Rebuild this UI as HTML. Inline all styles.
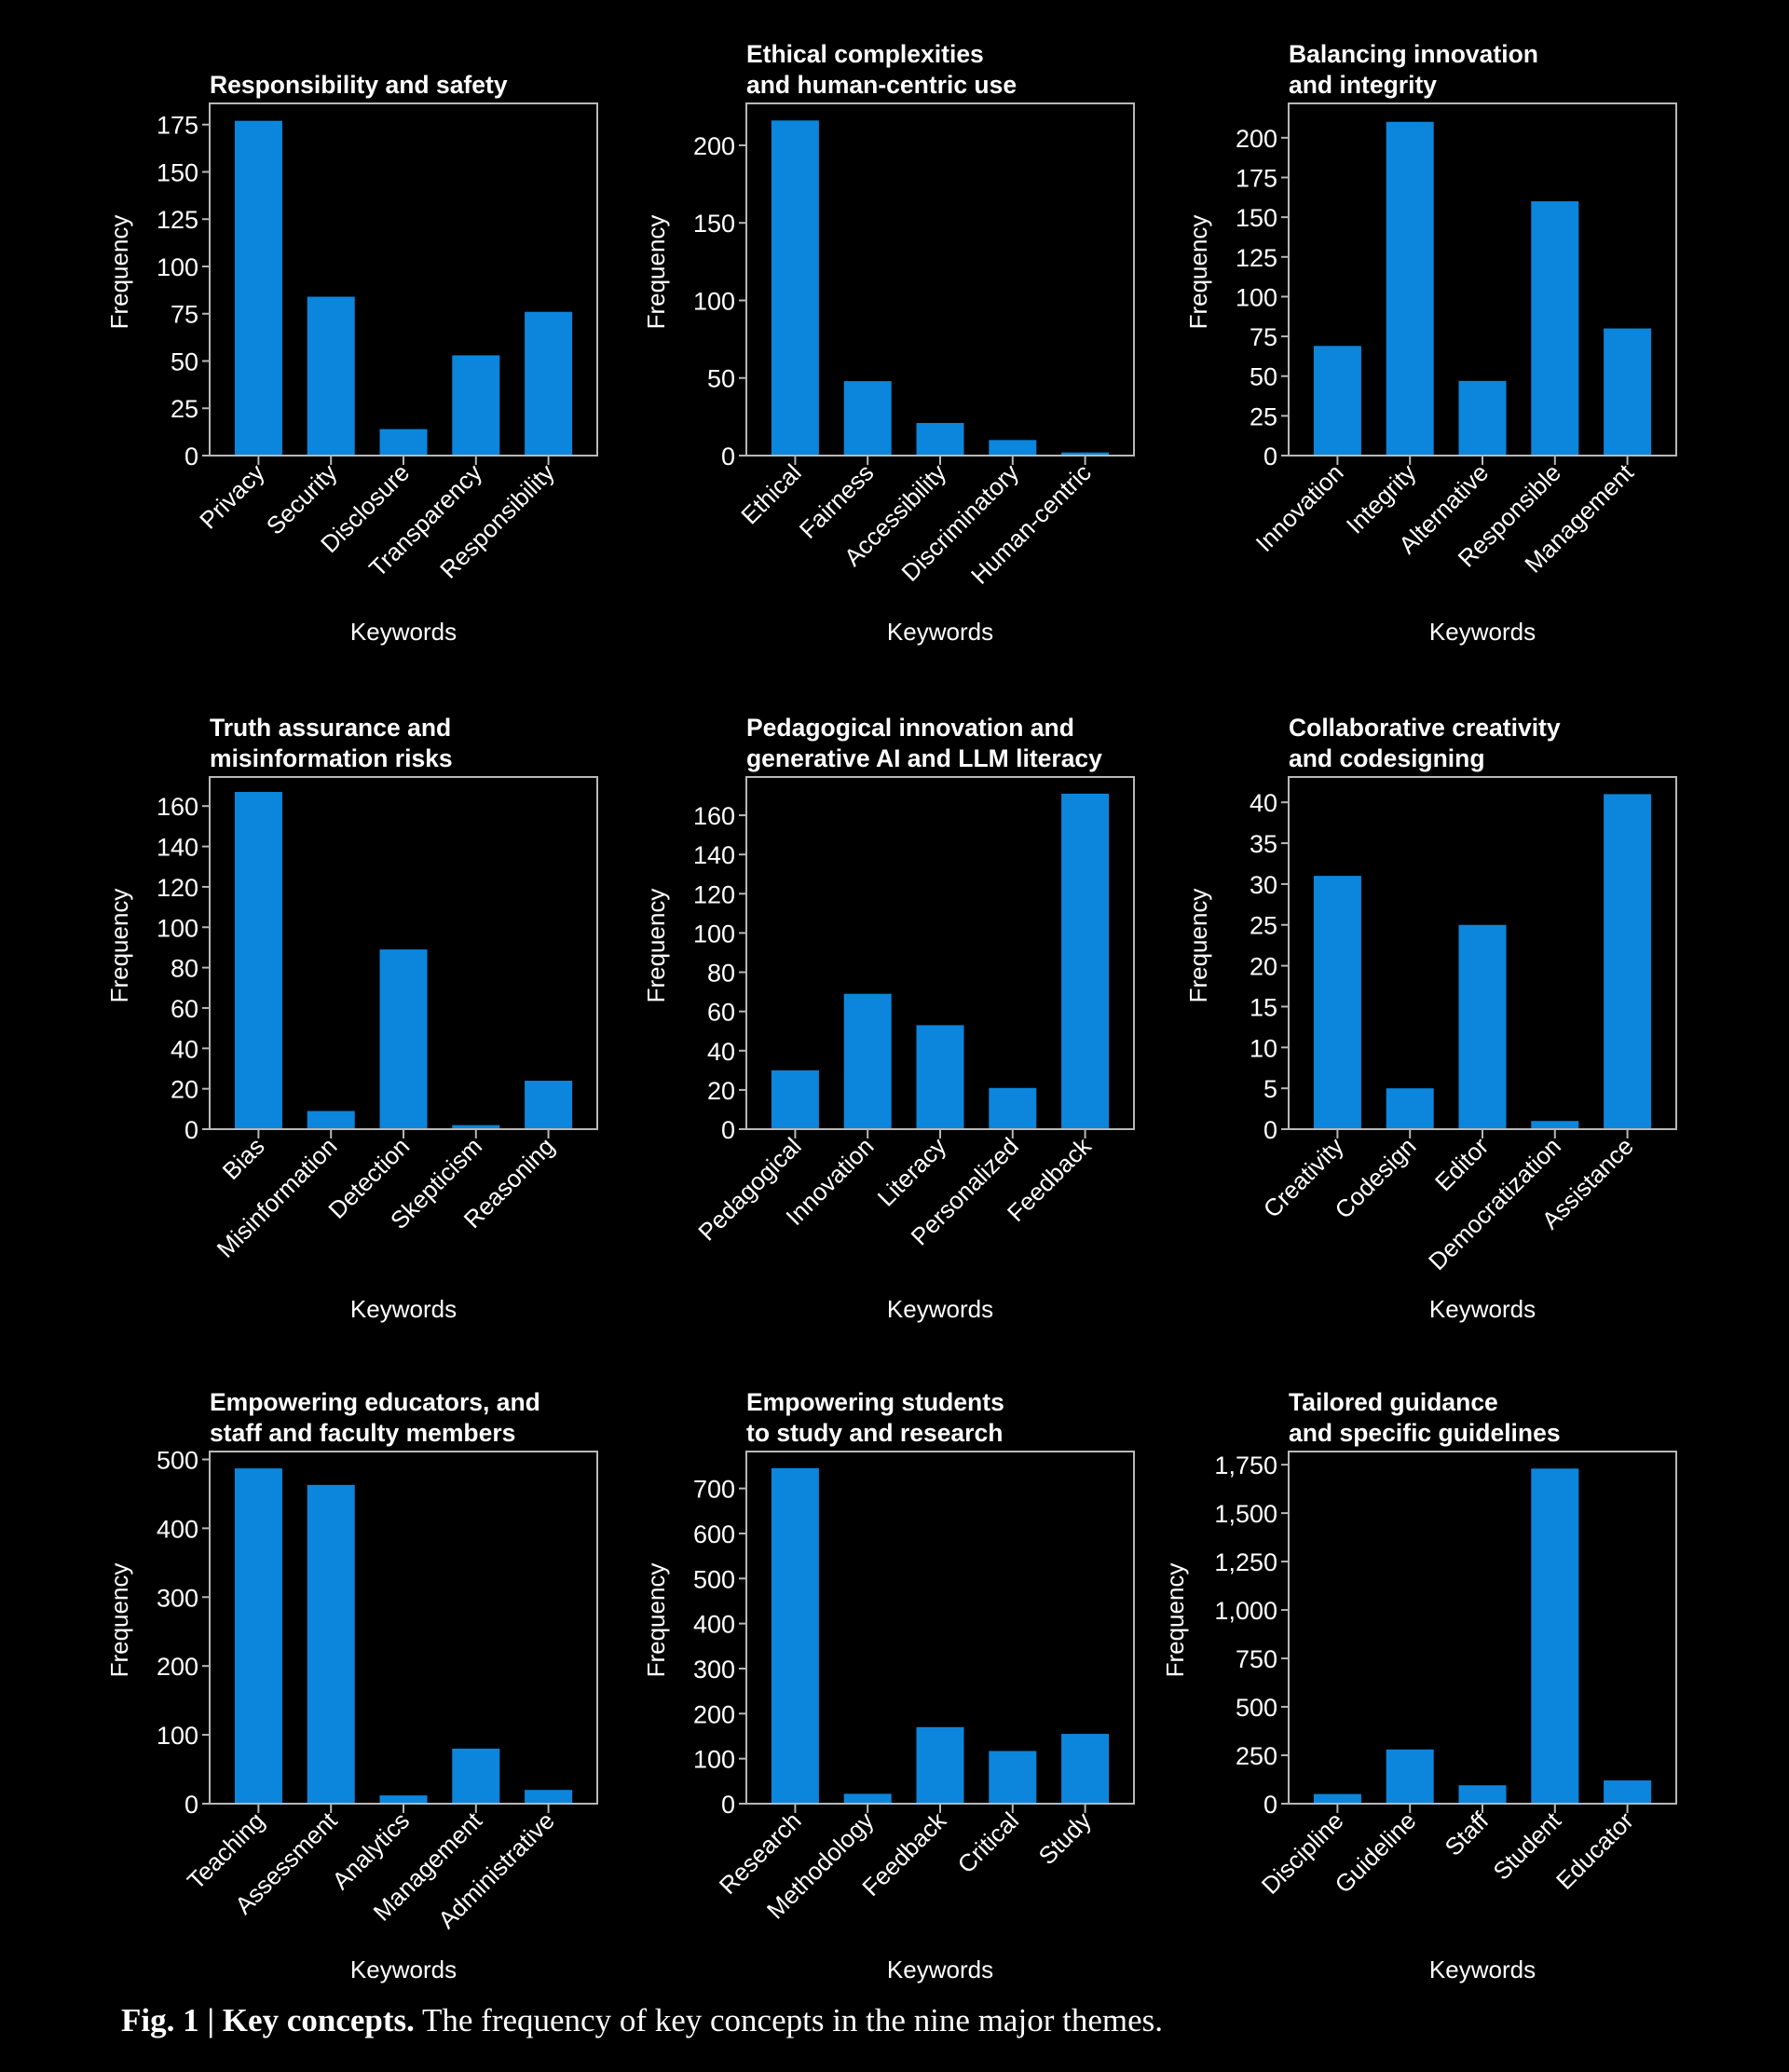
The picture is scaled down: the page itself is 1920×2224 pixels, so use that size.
<!DOCTYPE html>
<html><head><meta charset="utf-8">
<style>
html,body{margin:0;padding:0;background:#000;}
svg{display:block;font-family:"Liberation Sans",sans-serif;}
</style></head>
<body>
<svg id="fig" width="1920" height="2224" viewBox="0 0 1920 2224">
<rect width="1920" height="2224" fill="#000"/>
<text x="130" y="2180" fill="#fff" font-family="Liberation Serif, serif" font-size="35" textLength="1118" lengthAdjust="spacing"><tspan font-weight="bold">Fig. 1 | Key concepts.</tspan> The frequency of key concepts in the nine major themes.</text>
</svg>
<script>
const titles1=["Responsibility and safety"];
const cats1=["Privacy","Security","Disclosure","Transparency","Responsibility"];
const vals1=[177,84,14,53,76];
const ticks1=[0,25,50,75,100,125,150,175];
const titles2=["Ethical complexities","and human-centric use"];
const cats2=["Ethical","Fairness","Accessibility","Discriminatory","Human-centric"];
const vals2=[216,48,21,10,2];
const ticks2=[0,50,100,150,200];
const titles3=["Balancing innovation","and integrity"];
const cats3=["Innovation","Integrity","Alternative","Responsible","Management"];
const vals3=[69,210,47,160,80];
const ticks3=[0,25,50,75,100,125,150,175,200];
const titles4=["Truth assurance and","misinformation risks"];
const cats4=["Bias","Misinformation","Detection","Skepticism","Reasoning"];
const vals4=[167,9,89,2,24];
const ticks4=[0,20,40,60,80,100,120,140,160];
const titles5=["Pedagogical innovation and","generative AI and LLM literacy"];
const cats5=["Pedagogical","Innovation","Literacy","Personalized","Feedback"];
const vals5=[30,69,53,21,171];
const ticks5=[0,20,40,60,80,100,120,140,160];
const titles6=["Collaborative creativity","and codesigning"];
const cats6=["Creativity","Codesign","Editor","Democratization","Assistance"];
const vals6=[31,5,25,1,41];
const ticks6=[0,5,10,15,20,25,30,35,40];
const titles7=["Empowering educators, and","staff and faculty members"];
const cats7=["Teaching","Assessment","Analytics","Management","Administrative"];
const vals7=[487,463,12,80,20];
const ticks7=[0,100,200,300,400,500];
const titles8=["Empowering students","to study and research"];
const cats8=["Research","Methodology","Feedback","Critical","Study"];
const vals8=[745,22,170,117,155];
const ticks8=[0,100,200,300,400,500,600,700];
const titles9=["Tailored guidance","and specific guidelines"];
const cats9=["Discipline","Guideline","Staff","Student","Educator"];
const vals9=[50,280,95,1730,120];
const ticks9=["0","250","500","750","1,000","1,250","1,500","1,750"];

const panels=[
 {t:titles1,c:cats1,v:vals1,k:ticks1,max:186.2,col:0,row:0,yo:88},
 {t:titles2,c:cats2,v:vals2,k:ticks2,max:227,col:1,row:0,yo:88},
 {t:titles3,c:cats3,v:vals3,k:ticks3,max:221.6,col:2,row:0,yo:88},
 {t:titles4,c:cats4,v:vals4,k:ticks4,max:174.4,col:0,row:1,yo:88},
 {t:titles5,c:cats5,v:vals5,k:ticks5,max:179.5,col:1,row:1,yo:88},
 {t:titles6,c:cats6,v:vals6,k:ticks6,max:43.1,col:2,row:1,yo:88},
 {t:titles7,c:cats7,v:vals7,k:ticks7,max:511.5,col:0,row:2,yo:88},
 {t:titles8,c:cats8,v:vals8,k:ticks8,max:782,col:1,row:2,yo:88},
 {t:titles9,c:cats9,v:vals9,k:ticks9,max:1818,col:2,row:2,yo:113}
];
const colX=[225,801,1383], rowY=[111,834,1558], FW=416, FH=378;
const kwOff=[198,202,187];
const NS="http://www.w3.org/2000/svg";
const svg=document.getElementById('fig');
function mk(tag,attrs,parent){const e=document.createElementNS(NS,tag);for(const a in attrs)e.setAttribute(a,attrs[a]);parent.appendChild(e);return e;}
panels.forEach((p,pi)=>{
  const L=colX[p.col],T=rowY[p.row],B=T+FH;
  const g=mk('g',{},svg);
  
  
  const y=v=>B-(parseFloat(String(v).replace(/,/g,''))/p.max)*FH;
  const step=FW*0.187, pad=(FW-5*step)/2, bw=51;
  const x=i=>L+pad+(i+0.5)*step;
  p.t.forEach((line,li)=>{
    const tt=mk('text',{x:L,y:T-11-(p.t.length-1-li)*33,fill:'#fff','font-size':26.5,'font-weight':'bold'},g);
    tt.textContent=line;
    
    
  });
  p.v.forEach((v,i)=>{
    const r=mk('rect',{x:x(i)-bw/2,y:y(v),width:bw,height:B-y(v),fill:'#0b86dc'},g);
    
    
  });
  const f=mk('rect',{x:L,y:T,width:FW,height:FH,fill:'none',stroke:'#b8b8b8','stroke-width':2},g);
  
  
  p.k.forEach(k=>{
    const yy=y(k);
    mk('line',{x1:L-8,x2:L,y1:yy,y2:yy,stroke:'#b8b8b8','stroke-width':2},g);
    const tl=mk('text',{x:L-12,y:yy+10,fill:'#fff','font-size':27,'text-anchor':'end'},g);
    tl.textContent=k;
    
    
  });
  p.c.forEach((c,i)=>{
    const xx=x(i);
    mk('line',{x1:xx,x2:xx,y1:B,y2:B+10,stroke:'#b8b8b8','stroke-width':2},g);
    const ax=xx+8, ay=B+20;
    const tl=mk('text',{x:ax,y:ay,fill:'#fff','font-size':26,'text-anchor':'end',transform:`rotate(-45 ${ax} ${ay})`},g);
    tl.textContent=c;
    
    
  });
  const yl=mk('text',{x:0,y:0,fill:'#fff','font-size':26,'text-anchor':'middle',transform:`translate(${L-p.yo} ${T+FH*0.5-8}) rotate(-90)`},g);
  yl.textContent='Frequency';
  
  
  const xl=mk('text',{x:L+FW/2,y:B+kwOff[p.row],fill:'#fff','font-size':26,'text-anchor':'middle'},g);
  xl.textContent='Keywords';
  
  
});
</script>
</body></html>
